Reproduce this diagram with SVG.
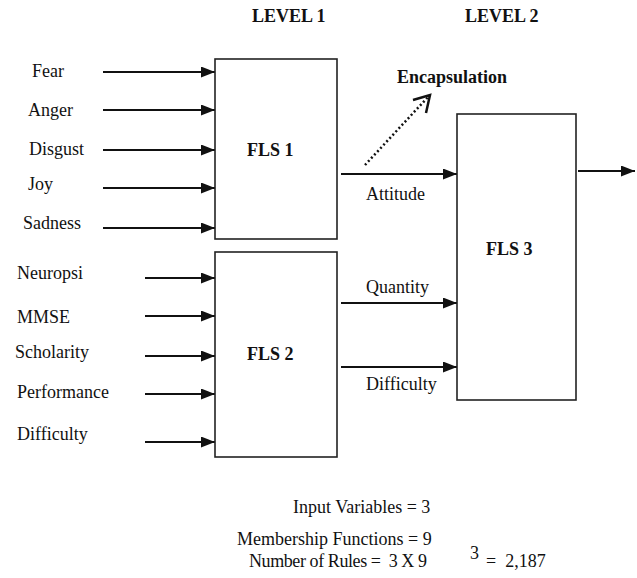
<svg xmlns="http://www.w3.org/2000/svg" width="637" height="578" viewBox="0 0 637 578">
  <style>
    text { font-family: "Liberation Serif", "Times New Roman", serif; font-size: 18px; fill: #111; }
    .b { font-weight: bold; }
    .box { fill: #fff; stroke: #222; stroke-width: 1.6; }
    .arr { stroke: #111; stroke-width: 1.8; fill: none; marker-end: url(#tri); }
  </style>
  <defs>
    <marker id="tri" markerUnits="userSpaceOnUse" markerWidth="15" markerHeight="12" refX="14" refY="5.5" orient="auto">
      <path d="M0,0 L14,5.5 L0,11 Z" fill="#111"/>
    </marker>
  </defs>
  <rect width="637" height="578" fill="#fff"/>

  <!-- headings -->
  <text class="b" x="252" y="22">LEVEL 1</text>
  <text class="b" x="465" y="22">LEVEL 2</text>

  <!-- connectors -->
  <g id="connectors">
    <line class="arr" x1="103" y1="72" x2="215" y2="72"/>
    <line class="arr" x1="103" y1="110" x2="215" y2="110"/>
    <line class="arr" x1="103" y1="150" x2="215" y2="150"/>
    <line class="arr" x1="103" y1="188" x2="215" y2="188"/>
    <line class="arr" x1="103" y1="228" x2="215" y2="228"/>
    <line class="arr" x1="145" y1="278" x2="215" y2="278"/>
    <line class="arr" x1="145" y1="316" x2="215" y2="316"/>
    <line class="arr" x1="145" y1="356" x2="215" y2="356"/>
    <line class="arr" x1="145" y1="394" x2="215" y2="394"/>
    <line class="arr" x1="145" y1="442" x2="215" y2="442"/>
    <line class="arr" x1="341" y1="174" x2="457" y2="174"/>
    <line class="arr" x1="341" y1="303" x2="457" y2="303"/>
    <line class="arr" x1="341" y1="367" x2="457" y2="367"/>
    <line class="arr" x1="578" y1="171" x2="635" y2="171"/>
    <!-- dotted encapsulation arrow -->
    <line x1="365" y1="165" x2="428" y2="97" stroke="#111" stroke-width="2.5" stroke-dasharray="2,2.5"/>
    <polyline points="413,100 430,95 426,113" fill="none" stroke="#111" stroke-width="2.5"/>
  </g>

  <!-- input labels -->
  <g id="inputs1">
    <text x="32" y="77">Fear</text>
    <text x="28" y="116">Anger</text>
    <text x="29" y="155">Disgust</text>
    <text x="28" y="190">Joy</text>
    <text x="23" y="229">Sadness</text>
  </g>
  <g id="inputs2">
    <text x="17" y="279">Neuropsi</text>
    <text x="17" y="323">MMSE</text>
    <text x="15" y="358">Scholarity</text>
    <text x="17" y="398">Performance</text>
    <text x="17" y="440">Difficulty</text>
  </g>

  <g id="fls1">
    <rect class="box" x="215" y="59" width="122" height="180"/>
    <text class="b" x="247" y="156">FLS 1</text>
  </g>
  <g id="fls2">
    <rect class="box" x="215" y="252" width="122" height="205"/>
    <text class="b" x="247" y="360">FLS 2</text>
  </g>
  <g id="fls3">
    <rect class="box" x="457" y="114" width="119" height="286"/>
    <text class="b" x="486" y="255">FLS 3</text>
  </g>

  <!-- connector labels -->
  <text class="b" x="397" y="83">Encapsulation</text>
  <text x="366" y="200">Attitude</text>
  <text x="366" y="293">Quantity</text>
  <text x="366" y="390">Difficulty</text>

  <!-- summary -->
  <text x="293" y="513">Input Variables = 3</text>
  <text x="237" y="545">Membership Functions = 9</text>
  <text x="249" y="567" textLength="178" xml:space="preserve">Number of Rules =  3 X 9</text>
  <text x="470" y="559">3</text>
  <text x="486" y="567" xml:space="preserve">=  2,187</text>
</svg>
